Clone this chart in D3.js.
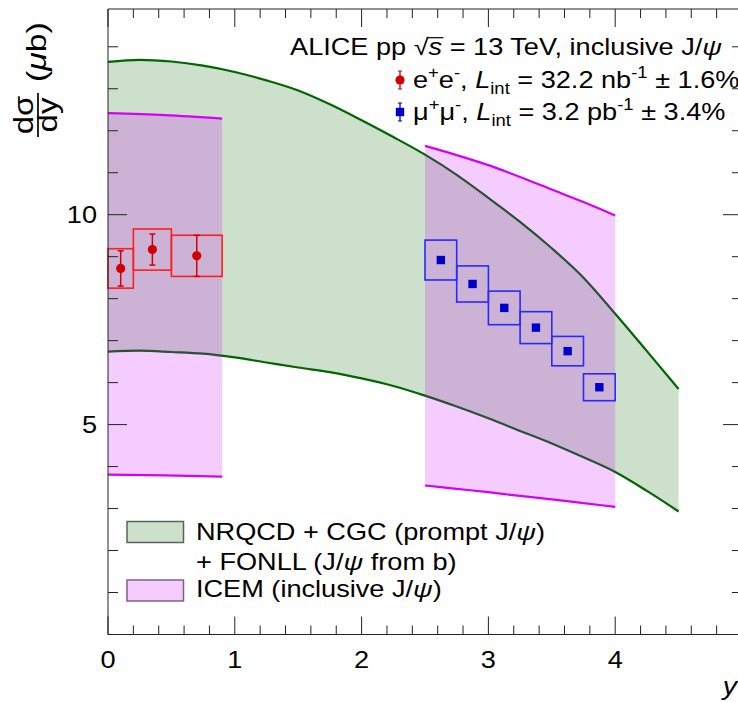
<!DOCTYPE html>
<html>
<head>
<meta charset="utf-8">
<script src="https://cdn.jsdelivr.net/npm/d3@7/dist/d3.min.js"></script>
<style>
  html, body { margin: 0; padding: 0; background: #fff; }
  svg { display: block; font-family: "Liberation Sans", Arial, Helvetica, sans-serif; }
</style>
</head>
<body>
<svg id="chart" width="738" height="702"></svg>
<script>
// ---- data -------------------------------------------------------------
// e+e- (mid-rapidity) : bin edges, value, stat. and syst. uncertainties
const eeBins = [[0, 0.2], [0.2, 0.5], [0.5, 0.9]];
const eeY    = [8.72, 9.17, 9.02];
const eeStat = [0.42, 0.37, 0.49];
const eeSyst = [0.47, 0.49, 0.49];

// mu+mu- (forward rapidity)
const mmBins = [[2.5, 2.75], [2.75, 3.0], [3.0, 3.25], [3.25, 3.5], [3.5, 3.75], [3.75, 4.0]];
const mmY    = [8.92, 8.35, 7.78, 7.31, 6.75, 5.89];
const mmStat = [0.06, 0.05, 0.05, 0.05, 0.05, 0.05];
const mmSyst = [0.475, 0.43, 0.40, 0.38, 0.35, 0.32];

// NRQCD + CGC + FONLL band
const nrqcdX    = [0, 0.25, 0.5, 0.75, 1.0, 1.25, 1.5, 1.75, 2.0, 2.25, 2.5, 2.75, 3.0, 3.25, 3.5, 3.75, 4.0, 4.25, 4.5];
const nrqcdHigh = [13.64, 13.69, 13.65, 13.55, 13.40, 13.20, 12.96, 12.63, 12.25, 11.85, 11.43, 10.95, 10.40, 9.83, 9.20, 8.50, 7.64, 6.75, 5.85];
const nrqcdLow  = [6.74, 6.76, 6.73, 6.69, 6.60, 6.48, 6.36, 6.25, 6.10, 5.92, 5.69, 5.43, 5.15, 4.85, 4.55, 4.22, 3.87, 3.42, 2.93];

// ICEM band, mid-rapidity and forward pieces
const icemMidX    = [0, 0.45, 0.9];
const icemMidHigh = [12.42, 12.37, 12.29];
const icemMidLow  = [3.81, 3.79, 3.76];
const icemFwdX    = [2.5, 2.75, 3.0, 3.25, 3.5, 3.75, 4.0];
const icemFwdHigh = [11.64, 11.42, 11.18, 10.90, 10.60, 10.30, 9.98];
const icemFwdLow  = [3.55, 3.47, 3.39, 3.30, 3.22, 3.13, 3.04];

// axis labels
const xTickLabels = [0, 1, 2, 3, 4];
const yTickLabels = [5, 10];

// ---- layout -----------------------------------------------------------
const svg = d3.select("#chart");
const X0 = 108, X1 = 742, Y0 = 634.5, Y1 = 9;
const x = d3.scaleLinear().domain([0, 5]).range([X0, X1]);
const y = d3.scaleLinear().domain([0, 14.9]).range([Y0, Y1]);

const GREEN = "rgb(0,102,0)";
const VIOLET = "rgb(204,0,255)";
const VIOLET_LINE = "rgb(214,0,245)";
const FS = 23;      // base font size
const SX = 1.18;    // horizontal glyph stretch of the typeface

const zip = (xs, lo, hi) => xs.map((v, i) => ({ x: v, lo: lo[i], hi: hi[i] }));

const area = d3.area().x(d => x(d.x)).y0(d => y(d.lo)).y1(d => y(d.hi)).curve(d3.curveMonotoneX);
const lineHi = d3.line().x(d => x(d.x)).y(d => y(d.hi)).curve(d3.curveMonotoneX);
const lineLo = d3.line().x(d => x(d.x)).y(d => y(d.lo)).curve(d3.curveMonotoneX);

const plot = svg.append("g");

// NRQCD band
const nrqcd = zip(nrqcdX, nrqcdLow, nrqcdHigh);
plot.append("path").attr("d", area(nrqcd)).attr("fill", GREEN).attr("fill-opacity", 0.2);
plot.append("path").attr("d", lineHi(nrqcd)).attr("fill", "none").attr("stroke", GREEN).attr("stroke-width", 2.2);
plot.append("path").attr("d", lineLo(nrqcd)).attr("fill", "none").attr("stroke", GREEN).attr("stroke-width", 2.2);

// ICEM bands (drawn translucent over the NRQCD band)
[zip(icemMidX, icemMidLow, icemMidHigh), zip(icemFwdX, icemFwdLow, icemFwdHigh)].forEach(band => {
  plot.append("path").attr("d", area(band)).attr("fill", VIOLET).attr("fill-opacity", 0.2);
  plot.append("path").attr("d", lineHi(band)).attr("fill", "none").attr("stroke", VIOLET_LINE).attr("stroke-width", 2.2);
  plot.append("path").attr("d", lineLo(band)).attr("fill", "none").attr("stroke", VIOLET_LINE).attr("stroke-width", 2.2);
});

// data points with systematic boxes
function drawSeries(bins, vals, stat, syst, boxColor, markColor, shape) {
  const g = plot.append("g");
  bins.forEach((b, i) => {
    g.append("rect")
      .attr("x", x(b[0])).attr("width", x(b[1]) - x(b[0]))
      .attr("y", y(vals[i] + syst[i])).attr("height", y(vals[i] - syst[i]) - y(vals[i] + syst[i]))
      .attr("fill", "none").attr("stroke", boxColor).attr("stroke-width", 1.6);
  });
  bins.forEach((b, i) => {
    const cx = x((b[0] + b[1]) / 2);
    g.append("line").attr("x1", cx).attr("x2", cx)
      .attr("y1", y(vals[i] + stat[i])).attr("y2", y(vals[i] - stat[i]))
      .attr("stroke", markColor).attr("stroke-width", 1.5);
    [vals[i] + stat[i], vals[i] - stat[i]].forEach(v => {
      g.append("line").attr("x1", cx - 3).attr("x2", cx + 3).attr("y1", y(v)).attr("y2", y(v))
        .attr("stroke", markColor).attr("stroke-width", 1.5);
    });
    if (shape === "circle") {
      g.append("circle").attr("cx", cx).attr("cy", y(vals[i])).attr("r", 4.6).attr("fill", markColor);
    } else {
      g.append("rect").attr("x", cx - 4.2).attr("y", y(vals[i]) - 4.2).attr("width", 8.4).attr("height", 8.4).attr("fill", markColor);
    }
  });
}
drawSeries(eeBins, eeY, eeStat, eeSyst, "rgb(255,30,30)", "rgb(210,0,0)", "circle");
drawSeries(mmBins, mmY, mmStat, mmSyst, "rgb(40,40,255)", "rgb(0,0,205)", "square");

// ---- frame and ticks -------------------------------------------------
const axisG = svg.append("g").attr("stroke", "#222").attr("stroke-width", 1);
axisG.append("line").attr("x1", X0).attr("x2", X1).attr("y1", Y0).attr("y2", Y0);
axisG.append("line").attr("x1", X0).attr("x2", X1).attr("y1", Y1).attr("y2", Y1);
axisG.append("line").attr("x1", X0).attr("x2", X0).attr("y1", Y0).attr("y2", Y1);
axisG.append("line").attr("x1", X1).attr("x2", X1).attr("y1", Y0).attr("y2", Y1);

d3.range(0, 5.001, 0.2).forEach(v => {
  const major = Math.abs(v - Math.round(v)) < 1e-6;
  const len = major ? 18 : 9;
  axisG.append("line").attr("x1", x(v)).attr("x2", x(v)).attr("y1", Y0).attr("y2", Y0 - len);
  axisG.append("line").attr("x1", x(v)).attr("x2", x(v)).attr("y1", Y1).attr("y2", Y1 + len);
});
d3.range(0, 14.9, 1).forEach(v => {
  const major = v % 5 === 0;
  const len = major ? 19 : 10;
  axisG.append("line").attr("x1", X0).attr("x2", X0 + len).attr("y1", y(v)).attr("y2", y(v));
  axisG.append("line").attr("x1", X1).attr("x2", X1 - len).attr("y1", y(v)).attr("y2", y(v));
});

// ---- rich text helper (stretched typeface, sub/superscripts, italics) ---
function rich(parent, px, py, parts, size, anchor, sx) {
  const g = parent.append("g").attr("transform", `translate(${px},${py}) scale(${sx || SX},1)`);
  const t = g.append("text").attr("x", 0).attr("y", 0)
    .attr("font-size", size).attr("text-anchor", anchor || "start");
  let cur = 0;
  parts.forEach(([s, k]) => {
    k = k || "";
    const off = k.includes("sup") ? -0.42 * size : k.includes("sub") ? 0.28 * size : 0;
    const ts = t.append("tspan").attr("dy", off - cur).text(s);
    cur = off;
    if (k.includes("sup") || k.includes("sub")) ts.attr("font-size", size * 0.68);
    if (k.includes("i")) ts.attr("font-style", "italic");
  });
  return { g, t };
}

// tick labels
xTickLabels.forEach(d => rich(svg, x(d), 668, [[String(d)]], FS, "middle"));
yTickLabels.forEach(d => rich(svg, 97, y(d) + 8, [[String(d)]], FS, "end"));

rich(svg, 737, 695, [["y", "i"]], 26, "end", 1.1);

// y-axis title: d sigma / d y (mu b)
const yt = svg.append("g").attr("transform", "translate(38,115) rotate(-90)");
rich(yt, 0, -5, [["dσ"]], 27, "middle", 1.22);
yt.append("line").attr("x1", -22).attr("x2", 22).attr("y1", 0).attr("y2", 0).attr("stroke", "#000").attr("stroke-width", 1.7);
rich(yt, 0, 19, [["dy"]], 27, "middle", 1.22);
rich(yt, 33, 8, [["("], ["μ", "i"], ["b)"]], 27, "start", 1.25);

// header
{
  const { g, t } = rich(svg, 722, 55, [["ALICE pp √"], ["s", "i"], [" = 13 TeV, inclusive J/"], ["ψ", "i"]], FS, "end");
  const node = t.node();
  const full = node.textContent;
  const idx = full.indexOf("√") + 1;
  const p0 = node.getEndPositionOfChar(idx - 1);
  const p1 = node.getEndPositionOfChar(idx);
  g.append("line").attr("x1", p0.x - 1.5).attr("x2", p1.x + 1).attr("y1", -17.3).attr("y2", -17.3)
    .attr("stroke", "#000").attr("stroke-width", 1.2);
}

// data legend
const lg = svg.append("g");
lg.append("line").attr("x1", 400).attr("x2", 400).attr("y1", 71).attr("y2", 89).attr("stroke", "rgb(210,0,0)").attr("stroke-width", 1.3);
lg.append("line").attr("x1", 398).attr("x2", 402).attr("y1", 71).attr("y2", 71).attr("stroke", "rgb(210,0,0)");
lg.append("line").attr("x1", 398).attr("x2", 402).attr("y1", 89).attr("y2", 89).attr("stroke", "rgb(210,0,0)");
lg.append("circle").attr("cx", 400).attr("cy", 80).attr("r", 4.6).attr("fill", "rgb(210,0,0)");
rich(lg, 413, 88, [["e"], ["+", "sup"], ["e"], ["-", "sup"], [", "], ["L", "i"], ["int", "sub"], [" = 32.2 nb"], ["-1", "sup"], [" ± 1.6%"]], FS);

lg.append("line").attr("x1", 400).attr("x2", 400).attr("y1", 103).attr("y2", 121).attr("stroke", "rgb(0,0,205)").attr("stroke-width", 1.3);
lg.append("line").attr("x1", 398).attr("x2", 402).attr("y1", 103).attr("y2", 103).attr("stroke", "rgb(0,0,205)");
lg.append("line").attr("x1", 398).attr("x2", 402).attr("y1", 121).attr("y2", 121).attr("stroke", "rgb(0,0,205)");
lg.append("rect").attr("x", 395.8).attr("y", 107.8).attr("width", 8.4).attr("height", 8.4).attr("fill", "rgb(0,0,205)");
rich(lg, 413, 120, [["μ"], ["+", "sup"], ["μ"], ["-", "sup"], [", "], ["L", "i"], ["int", "sub"], [" = 3.2 pb"], ["-1", "sup"], [" ± 3.4%"]], FS);

// model legend
const ml = svg.append("g");
ml.append("rect").attr("x", 127).attr("y", 521.5).attr("width", 56.5).attr("height", 21)
  .attr("fill", "rgb(204,224,204)").attr("stroke", "#56645a").attr("stroke-width", 1.5);
rich(ml, 196, 540, [["NRQCD + CGC (prompt J/"], ["ψ", "i"], [")"]], FS);
rich(ml, 196, 570, [["+ FONLL (J/"], ["ψ", "i"], [" from b)"]], FS);
ml.append("rect").attr("x", 127).attr("y", 580).attr("width", 56.5).attr("height", 21)
  .attr("fill", "rgb(245,204,255)").attr("stroke", "#7e6284").attr("stroke-width", 1.5);
rich(ml, 196, 597, [["ICEM (inclusive J/"], ["ψ", "i"], [")"]], FS);
</script>
</body>
</html>
